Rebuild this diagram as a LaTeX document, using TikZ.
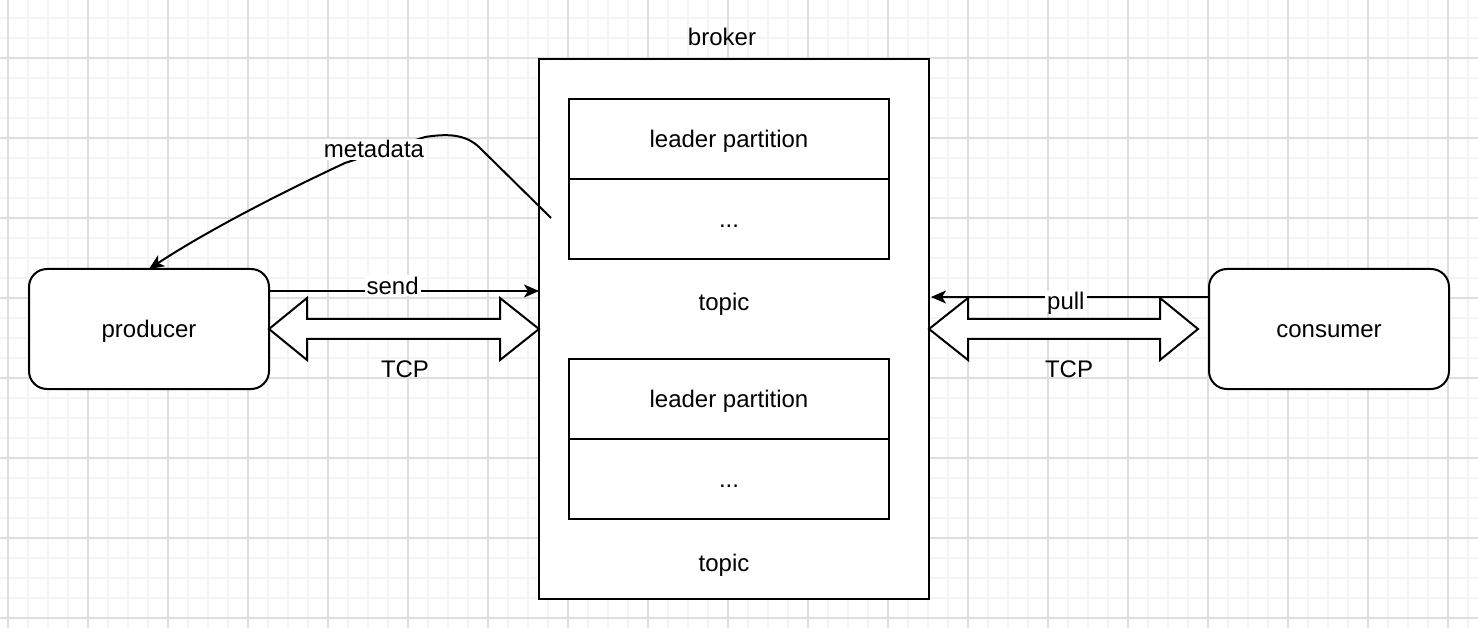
\documentclass[tikz,border=0pt]{standalone}
\usepackage{fontspec}
\setmainfont{Liberation Sans}
\usetikzlibrary{arrows.meta,calc}
\definecolor{gridminor}{HTML}{F4F4F4}
\definecolor{gridmajor}{HTML}{DEDEDE}
\begin{document}
\begin{tikzpicture}[x=1pt,y=-1pt,
  box/.style={draw=black, line width=2pt, fill=white, inner sep=0pt, outer sep=0pt},
  rbox/.style={box, rounded corners=18pt},
  txt/.style={font=\fontsize{24}{28}\selectfont, inner sep=0pt, anchor=center, text height=18pt, text depth=1pt},
  lbl/.style={txt, fill=white, inner xsep=2pt, inner ysep=1pt},
  conn/.style={line width=2pt, -{Stealth[length=15pt,width=13pt,inset=4pt]}},
  dbl/.style={draw=black, line width=2pt, fill=white, line join=miter}
]
\useasboundingbox (0,0) rectangle (1478,628);
% grid
\foreach \x in {8,28,...,1478} \draw[gridminor, line width=1.5pt] (\x,0) -- (\x,628);
\foreach \y in {18,38,...,628} \draw[gridminor, line width=1.5pt] (0,\y) -- (1478,\y);
\foreach \x in {8,88,...,1478} \draw[gridmajor, line width=1.5pt] (\x,0) -- (\x,628);
\foreach \y in {58,138,...,628} \draw[gridmajor, line width=1.5pt] (0,\y) -- (1478,\y);

% broker
\node[box, minimum width=390pt, minimum height=540pt] (broker) at (734,329) {};
\node[txt] (brokerlbl) at (722,37.5) {broker};
\node[box, minimum width=320pt, minimum height=80pt, txt] (p1a) at (729,139) {leader partition};
\node[box, minimum width=320pt, minimum height=80pt, txt] (p1b) at (729,219) {...};
\node[txt] (topic1) at (724,302.5) {topic};
\node[box, minimum width=320pt, minimum height=80pt, txt] (p2a) at (729,399) {leader partition};
\node[box, minimum width=320pt, minimum height=80pt, txt] (p2b) at (729,479) {...};
\node[txt] (topic2) at (724,562.5) {topic};

% producer / consumer
\node[rbox, minimum width=240pt, minimum height=120pt, txt] (producer) at (149,329) {producer};
\node[rbox, minimum width=240pt, minimum height=120pt, txt] (consumer) at (1329,329) {consumer};

% TCP double arrows
\draw[dbl] (producer.east) -- ($(producer.east)+(38,-31)$) -- ($(producer.east)+(38,-10)$)
  -- ($(broker.west)+(-39,-10)$) -- ($(broker.west)+(-39,-31)$) -- (broker.west)
  -- ($(broker.west)+(-39,31)$) -- ($(broker.west)+(-39,10)$)
  -- ($(producer.east)+(38,10)$) -- ($(producer.east)+(38,31)$) -- cycle;
\node[txt] (tcp1) at (405,368.5) {TCP};

\draw[dbl] (broker.east) -- ($(broker.east)+(39,-31)$) -- ($(broker.east)+(39,-10)$)
  -- ($(consumer.west)+(-49,-10)$) -- ($(consumer.west)+(-49,-31)$) -- ($(consumer.west)+(-11,0)$)
  -- ($(consumer.west)+(-49,31)$) -- ($(consumer.west)+(-49,10)$)
  -- ($(broker.east)+(39,10)$) -- ($(broker.east)+(39,31)$) -- cycle;
\node[txt] (tcp2) at (1069,368.5) {TCP};

% send
\coordinate (sendstart) at ($(producer.north east)+(0,22)$);
\draw[conn] (sendstart) -- (sendstart -| broker.west)
  node[lbl, pos=0.458, yshift=5pt] (sendlbl) {send};

% pull
\coordinate (pullstart) at ($(consumer.north west)+(0,28)$);
\draw[conn] (pullstart) -- ($(pullstart -| broker.east)+(2,0)$)
  node[lbl, pos=0.515, yshift=-4.5pt] (pulllbl) {pull};

% metadata
\coordinate (mdstart) at ($(broker.west)+(12,-111)$);
\draw[conn] (mdstart) -- (480,148) .. controls (465,133) and (445,134) .. (425,137)
  -- (345,163) .. controls (285,191) and (210,229) .. (producer.north);
\node[lbl] (mdlbl) at (374,149.5) {metadata};
\end{tikzpicture}
\end{document}
